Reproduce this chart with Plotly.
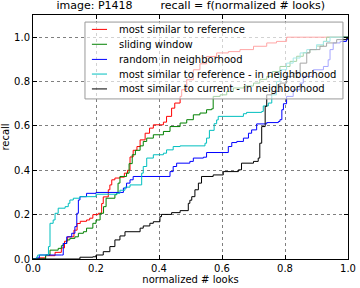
import plotly.graph_objects as go

red_x = [0, 0.02, 0.04, 0.07, 0.09, 0.1, 0.11, 0.13, 0.14, 0.15, 0.17, 0.18, 0.19, 0.207, 0.218, 0.223, 0.239, 0.244, 0.25, 0.26, 0.276, 0.29, 0.3, 0.308, 0.318, 0.33, 0.34, 0.356, 0.37, 0.382, 0.414, 0.424, 0.44, 0.45, 0.467, 0.472, 0.488, 0.509, 0.53, 0.551, 0.583, 0.62, 0.657, 0.70, 0.742, 0.773, 0.805, 1.0]
red_y = [0, 0.005, 0.015, 0.03, 0.05, 0.08, 0.1, 0.13, 0.16, 0.17, 0.176, 0.184, 0.2, 0.206, 0.25, 0.28, 0.312, 0.334, 0.357, 0.365, 0.369, 0.387, 0.40, 0.46, 0.49, 0.507, 0.537, 0.567, 0.59, 0.605, 0.617, 0.643, 0.68, 0.703, 0.733, 0.763, 0.808, 0.853, 0.88, 0.913, 0.929, 0.935, 0.944, 0.959, 0.974, 0.981, 1.0, 1.0]

green_x = [0, 0.04, 0.054, 0.08, 0.09, 0.096, 0.107, 0.117, 0.133, 0.144, 0.16, 0.17, 0.19, 0.2, 0.213, 0.224, 0.232, 0.26, 0.266, 0.27, 0.276, 0.297, 0.305, 0.315, 0.325, 0.34, 0.35, 0.361, 0.382, 0.414, 0.435, 0.467, 0.488, 0.509, 0.53, 0.551, 0.567, 0.572, 0.594, 0.615, 0.636, 0.67, 0.70, 0.72, 0.742, 0.76, 0.784, 0.816, 0.837, 0.858, 0.879, 0.9, 0.922, 0.932, 1.0]
green_y = [0, 0.018, 0.04, 0.048, 0.06, 0.07, 0.086, 0.093, 0.1, 0.116, 0.123, 0.139, 0.161, 0.176, 0.206, 0.236, 0.274, 0.29, 0.3, 0.342, 0.372, 0.387, 0.43, 0.47, 0.49, 0.51, 0.53, 0.545, 0.56, 0.575, 0.597, 0.613, 0.628, 0.65, 0.658, 0.673, 0.677, 0.733, 0.74, 0.755, 0.771, 0.78, 0.793, 0.81, 0.823, 0.845, 0.868, 0.891, 0.914, 0.93, 0.944, 0.96, 0.981, 1.0, 1.0]

blue_x = [0, 0.01, 0.02, 0.091, 0.096, 0.107, 0.123, 0.133, 0.139, 0.144, 0.149, 0.17, 0.2, 0.287, 0.297, 0.308, 0.318, 0.435, 0.445, 0.456, 0.498, 0.509, 0.541, 0.551, 0.62, 0.631, 0.647, 0.668, 0.684, 0.694, 0.71, 0.742, 0.779, 0.784, 0.79, 0.795, 0.805, 0.826, 0.848, 0.858, 0.89, 0.922, 0.937, 0.943, 0.953, 0.975, 0.995, 1.0]
blue_y = [0, 0.005, 0.018, 0.018, 0.07, 0.1, 0.116, 0.146, 0.206, 0.266, 0.281, 0.296, 0.3, 0.32, 0.342, 0.357, 0.372, 0.394, 0.417, 0.432, 0.44, 0.455, 0.459, 0.48, 0.507, 0.525, 0.53, 0.545, 0.567, 0.582, 0.609, 0.615, 0.62, 0.628, 0.673, 0.7, 0.733, 0.763, 0.793, 0.823, 0.853, 0.868, 0.898, 0.944, 0.974, 0.981, 0.989, 1.0]

cyan_x = [0, 0.012, 0.015, 0.043, 0.049, 0.054, 0.064, 0.07, 0.08, 0.102, 0.112, 0.117, 0.128, 0.149, 0.2, 0.266, 0.276, 0.292, 0.308, 0.345, 0.35, 0.361, 0.382, 0.414, 0.424, 0.445, 0.467, 0.546, 0.551, 0.56, 0.575, 0.583, 0.588, 0.668, 0.678, 0.726, 0.731, 0.747, 0.758, 0.773, 0.784, 0.805, 0.826, 0.848, 0.869, 0.9, 0.922, 0.943, 1.0]
cyan_y = [0, 0.01, 0.018, 0.018, 0.056, 0.161, 0.176, 0.206, 0.229, 0.236, 0.251, 0.266, 0.274, 0.281, 0.292, 0.296, 0.31, 0.324, 0.334, 0.387, 0.417, 0.455, 0.47, 0.477, 0.492, 0.507, 0.51, 0.522, 0.545, 0.58, 0.61, 0.627, 0.643, 0.655, 0.661, 0.665, 0.69, 0.703, 0.74, 0.8, 0.853, 0.883, 0.906, 0.929, 0.944, 0.966, 0.981, 1.0, 1.0]

black_x = [0, 0.149, 0.19, 0.2, 0.223, 0.244, 0.26, 0.276, 0.292, 0.34, 0.35, 0.371, 0.382, 0.403, 0.408, 0.44, 0.467, 0.493, 0.498, 0.504, 0.514, 0.525, 0.535, 0.572, 0.604, 0.652, 0.662, 0.70, 0.715, 0.72, 0.726, 0.737, 0.742, 0.758, 0.784, 0.805, 0.826, 0.848, 0.869, 0.879, 0.911, 0.932, 0.964, 0.995, 1.0]
black_y = [0, 0.008, 0.01, 0.018, 0.033, 0.056, 0.086, 0.104, 0.123, 0.139, 0.149, 0.161, 0.168, 0.191, 0.201, 0.209, 0.218, 0.251, 0.265, 0.281, 0.312, 0.342, 0.372, 0.379, 0.394, 0.402, 0.432, 0.44, 0.455, 0.522, 0.597, 0.688, 0.74, 0.755, 0.793, 0.823, 0.838, 0.883, 0.929, 0.944, 0.959, 0.974, 0.989, 0.995, 1.0]

series_names = [
    "most similar to reference",
    "sliding window",
    "random in neighborhood",
    "most similar to reference - in neighborhood",
    "most similar to current - in neighborhood",
]
series_x = [red_x, green_x, blue_x, cyan_x, black_x]
series_y = [red_y, green_y, blue_y, cyan_y, black_y]
series_colors = ["#ff0000", "#008000", "#0000ff", "#00bfbf", "#000000"]

tick_vals = [0.0, 0.2, 0.4, 0.6, 0.8, 1.0]
tick_text = ["0.0", "0.2", "0.4", "0.6", "0.8", "1.0"]

font = "DejaVu Sans, Arial, sans-serif"

fig = go.Figure()
for name, xs, ys, col in zip(series_names, series_x, series_y, series_colors):
    fig.add_trace(go.Scatter(x=xs, y=ys, name=name, mode="lines", showlegend=False,
                             line=dict(color=col, width=1, shape="hv")))

# Legend drawn as a box with line samples and text labels (matplotlib-like spacing)
leg_x0, leg_x1, leg_y0, leg_y1 = 0.165, 0.984, 0.656, 0.971
shapes = [dict(type="rect", xref="paper", yref="paper", x0=leg_x0, x1=leg_x1, y0=leg_y0, y1=leg_y1,
               line=dict(color="#999999", width=1), fillcolor="rgba(255,255,255,0.65)", layer="above")]
annotations = []
entry_ys = [0.941, 0.880, 0.818, 0.758, 0.697]
for name, col, ey in zip(series_names, series_colors, entry_ys):
    shapes.append(dict(type="line", xref="paper", yref="paper", x0=0.187, x1=0.235, y0=ey, y1=ey,
                       line=dict(color=col, width=1), layer="above"))
    annotations.append(dict(text=name, xref="paper", yref="paper", x=0.268, y=ey,
                            xanchor="left", yanchor="middle", showarrow=False,
                            font=dict(size=10, color="black", family=font)))

axis_common = dict(
    showline=True, linecolor="black", linewidth=1, mirror="allticks",
    ticks="inside", ticklen=4, tickcolor="black",
    showgrid=True, gridcolor="rgba(0,0,0,0.5)", griddash="dot", gridwidth=0.7,
    zeroline=False, tickfont=dict(size=10, color="black", family=font),
    tickvals=tick_vals, ticktext=tick_text, automargin=False,
)
fig.update_xaxes(range=[0, 1], title=dict(text="normalized # looks", font=dict(size=10, color="black", family=font), standoff=2), **axis_common)
fig.update_yaxes(range=[0, 1.1], title=dict(text="recall", font=dict(size=10, color="black", family=font), standoff=4), **axis_common)

fig.update_layout(
    width=360, height=288,
    margin=dict(l=33, r=12, t=15, b=29),
    paper_bgcolor="white", plot_bgcolor="white",
    font=dict(family=font, color="black"),
    title=dict(text="image: P1418        recall = f(normalized # looks)",
               x=0.53, xanchor="center", y=0.995, yanchor="top",
               font=dict(size=11, color="black", family=font)),
    shapes=shapes, annotations=annotations,
    showlegend=False,
)

fig.write_html("out.html", config={"displayModeBar": False},
               post_script="document.body.style.margin='0px';")
